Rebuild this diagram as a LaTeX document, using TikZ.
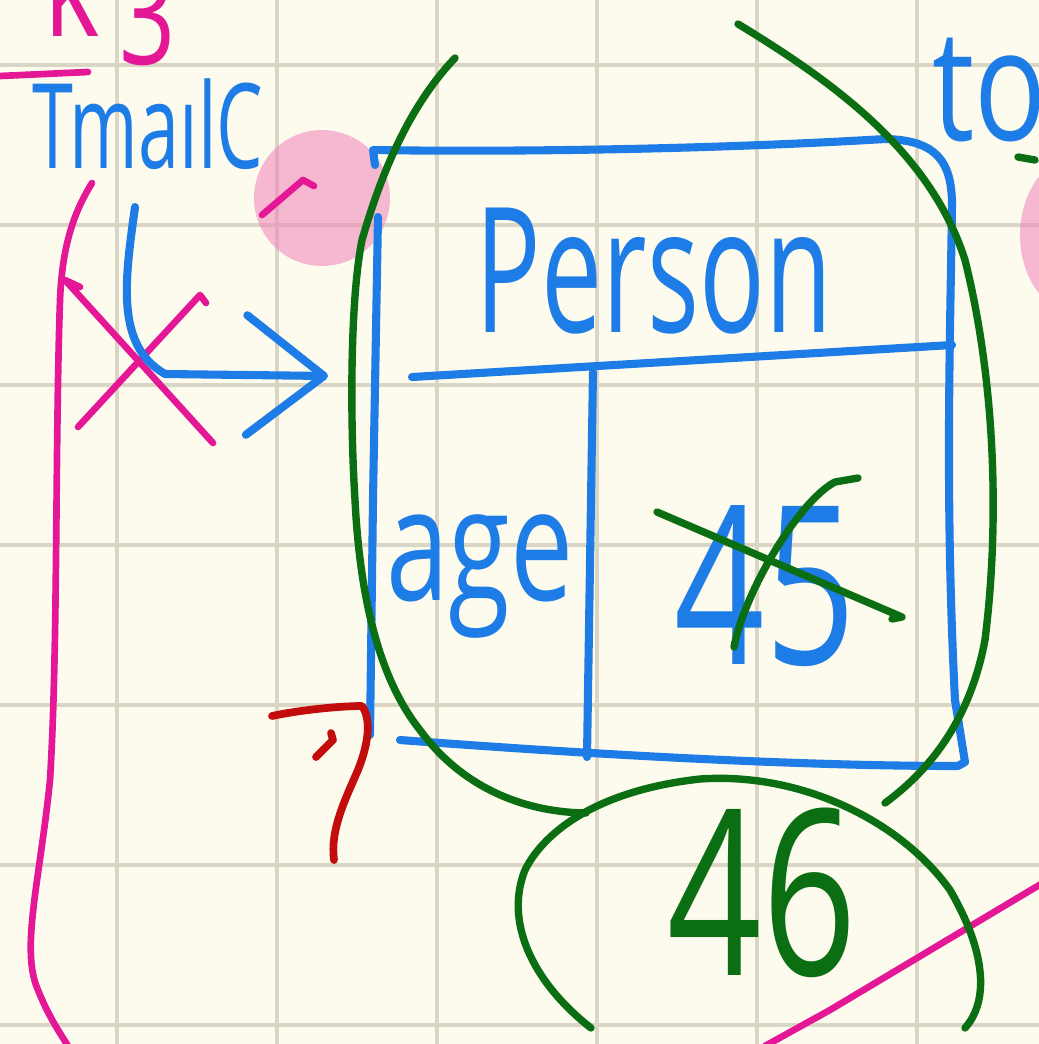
\documentclass[tikz,border=0pt]{standalone}
\usepackage{fontspec}
\setmainfont{Open Sans}
\usepackage{graphicx}
\usetikzlibrary{arrows.meta}
\definecolor{penblue}{RGB}{30,124,230}
\definecolor{pengreen}{RGB}{12,110,18}
\definecolor{penpink}{RGB}{228,24,150}
\definecolor{penred}{RGB}{195,12,12}
\definecolor{paper}{RGB}{253,251,238}
\definecolor{gridline}{RGB}{218,214,198}
\definecolor{marker}{RGB}{240,130,185}
\newcommand{\tall}[2]{\scalebox{1}[#1]{#2}}

\begin{document}
\begin{tikzpicture}[x=0.01cm,y=-0.01cm,line cap=round,line join=round,
    bluepen/.style={penblue,line width=2.3pt},
    greenpen/.style={pengreen,line width=2.1pt},
    pinkpen/.style={penpink,line width=1.9pt},
    redpen/.style={penred,line width=2.2pt},
    hand/.style={inner sep=0pt,anchor=base}]
  % paper with grid, 160px squares
  \fill[paper] (0,0) rectangle (1039,1044);
  \clip (0,0) rectangle (1039,1044);
  \foreach \gx in {117,277,...,917}
    \draw[gridline,line width=1.1pt] (\gx,0) -- (\gx,1044);
  \foreach \gy in {65,225,...,1025}
    \draw[gridline,line width=1.1pt] (0,\gy) -- (1039,\gy);
  % highlighter dots
  \fill[marker,opacity=0.55] (322,198) circle[radius=68];
  \fill[marker,opacity=0.55] (1080,235) ellipse[x radius=60,y radius=80];

  % pink notes, top left
  \node[hand,penpink,font=\fontsize{30}{30}\selectfont] (kmark) at (72,36) {\tall{1.4}{k}};
  \node[hand,penpink,font=\fontsize{28}{28}\selectfont] (three) at (148,64) {\tall{1.4}{3}};
  \draw[pinkpen] (0,76) -- (88,72);
  \draw[pinkpen] (92,183) .. controls (72,215) and (62,250) .. (60,300)
    .. controls (55,450) and (58,650) .. (50,780)
    .. controls (40,880) and (20,950) .. (38,990)
    .. controls (48,1015) and (58,1030) .. (68,1046);
  \draw[pinkpen] (80,287) -- (65,280) -- (213,443);
  \draw[pinkpen] (78,427) -- (200,295) -- (206,303);
  \draw[pinkpen] (262,215) -- (303,180) -- (314,186);
  \draw[pinkpen] (765,1046) -- (830,1010) -- (1041,884);

  % blue label and arrow into the box
  \node[hand,penblue,font=\fontsize{21}{21}\selectfont] (mailC) at (148,168) {\tall{1.6}{TmaılC}};
  \node[hand,penblue,font=\fontsize{34}{34}\selectfont,anchor=base west] (towd) at (932,140) {\tall{1.3}{to}};
  \coordinate (arrstart) at (135,207);
  \coordinate (boxW) at (328,376);
  \draw[bluepen,-{Straight Barb[length=22pt,width=34pt,round]}] (arrstart)
    .. controls (125,280) and (115,345) .. (165,374) -- (boxW);

  % the record box
  \draw[bluepen] (375,165) -- (373,150) .. controls (500,152) and (700,150) .. (885,139)
    .. controls (935,140) and (952,160) .. (952,205)
    .. controls (950,350) and (945,500) .. (955,700) -- (965,762) -- (958,766)
    .. controls (800,766) and (600,755) .. (400,740);
  \draw[bluepen] (378,217) -- (373,500) -- (370,735);
  \draw[bluepen] (412,377) -- (952,345);
  \draw[bluepen] (593,372) -- (587,757);
  \node[hand,penblue,font=\fontsize{31}{31}\selectfont] (title) at (654,332) {\tall{1.6}{Person}};
  \node[hand,penblue,font=\fontsize{32}{32}\selectfont] (agekey) at (480,600) {\tall{1.4}{age}};
  \node[hand,penblue,font=\fontsize{45}{45}\selectfont] (ageval) at (765,664) {\tall{1.4}{45}};

  % green corrections
  \draw[greenpen] (657,512) -- (902,617) -- (892,619);
  \draw[greenpen] (734,647) .. controls (745,590) and (800,500) .. (835,482) -- (858,478);
  \draw[greenpen] (455,58) .. controls (415,100) and (385,160) .. (362,240)
    .. controls (350,300) and (350,420) .. (355,500)
    .. controls (360,600) and (380,680) .. (420,730)
    .. controls (460,785) and (520,812) .. (586,813);
  \draw[greenpen] (738,24) .. controls (830,80) and (930,150) .. (965,260)
    .. controls (995,380) and (1000,520) .. (985,640)
    .. controls (970,720) and (930,770) .. (885,803);
  \draw[greenpen] (591,1028) .. controls (530,980) and (505,920) .. (525,870)
    .. controls (545,830) and (600,790) .. (700,779)
    .. controls (800,772) and (900,820) .. (950,890)
    .. controls (985,950) and (990,1000) .. (965,1028);
  \node[hand,pengreen,font=\fontsize{47}{47}\selectfont] (newval) at (762,975) {\tall{1.4}{46}};
  \draw[greenpen] (1018,157) -- (1035,160);

  % red query mark
  \draw[redpen] (272,716) .. controls (300,710) and (340,706) .. (362,706)
    .. controls (372,720) and (368,745) .. (358,770)
    .. controls (345,800) and (330,830) .. (334,860);
  \draw[redpen] (316,757) -- (333,740) -- (331,733);
\end{tikzpicture}
\end{document}
